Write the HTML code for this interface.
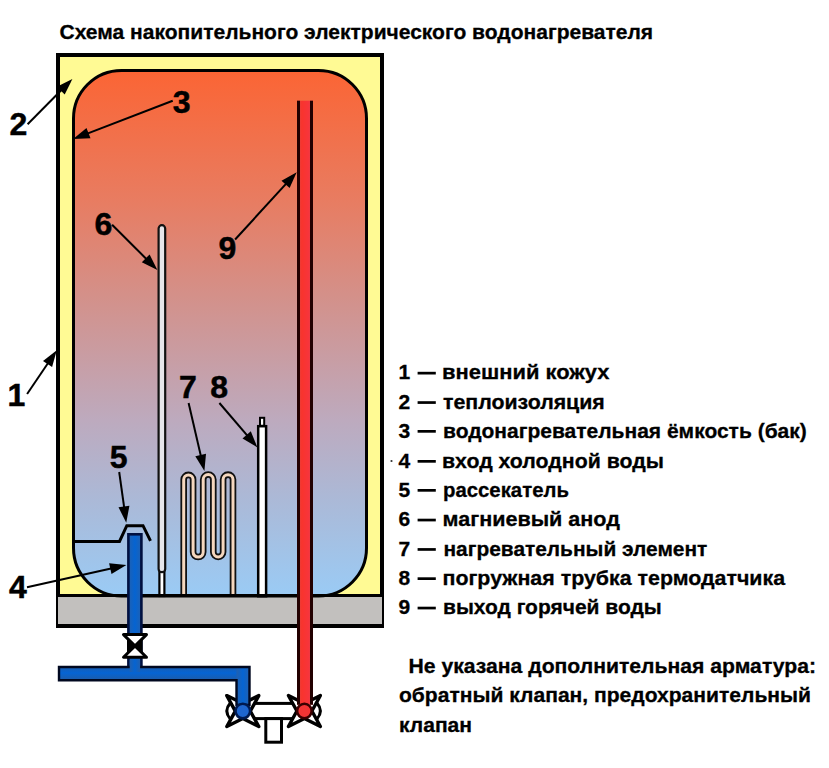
<!DOCTYPE html>
<html><head><meta charset="utf-8">
<style>
html,body{margin:0;padding:0;background:#fff;width:829px;height:768px;overflow:hidden}
svg{display:block;position:absolute;left:0;top:0}
.t{font-family:"Liberation Sans",sans-serif;font-weight:bold;font-size:21px;fill:#000;stroke:#000;stroke-width:0.3px}
.n{font-family:"Liberation Sans",sans-serif;font-weight:bold;font-size:32px;fill:#000;stroke:#000;stroke-width:0.5px}
</style></head>
<body>
<svg width="829" height="768" viewBox="0 0 829 768">
<defs>
<linearGradient id="g" x1="0" y1="69" x2="0" y2="597" gradientUnits="userSpaceOnUse">
<stop offset="0" stop-color="#fc6332"/>
<stop offset="0.017" stop-color="#fa6637"/>
<stop offset="0.248" stop-color="#e87c61"/>
<stop offset="0.445" stop-color="#d2928d"/>
<stop offset="0.665" stop-color="#bdaabe"/>
<stop offset="0.816" stop-color="#abb9d7"/>
<stop offset="0.967" stop-color="#9dc8f0"/>
<stop offset="1" stop-color="#9acbf5"/>
</linearGradient>
<linearGradient id="rp" x1="0" y1="0" x2="1" y2="0">
<stop offset="0" stop-color="#d84646"/>
<stop offset="0.3" stop-color="#f8342d"/>
<stop offset="0.7" stop-color="#f8343a"/>
<stop offset="1" stop-color="#dc4450"/>
</linearGradient>
<linearGradient id="bpv" x1="0" y1="0" x2="1" y2="0">
<stop offset="0" stop-color="#2060b0"/>
<stop offset="0.5" stop-color="#0564d2"/>
<stop offset="1" stop-color="#2060b0"/>
</linearGradient>
<linearGradient id="bph" x1="0" y1="0" x2="0" y2="1">
<stop offset="0" stop-color="#1a5db0"/>
<stop offset="0.45" stop-color="#0564d4"/>
<stop offset="1" stop-color="#1d5ba8"/>
</linearGradient>
</defs>
<rect x="58" y="55" width="324" height="571" fill="#fffa94" stroke="#000" stroke-width="4"/>
<rect x="58" y="597" width="324" height="27" fill="#c2c0be"/>
<path d="M73.5 548 L73.5 118.5 A48 48 0 0 1 121.5 70.5 L318.5 70.5 A48 48 0 0 1 366.5 118.5 L366.5 548 A48 48 0 0 1 318.5 596 L121.5 596 A48 48 0 0 1 73.5 548 Z" fill="url(#g)" stroke="#000" stroke-width="3"/>

<rect x="159.4" y="571" width="5" height="25" fill="#fff" stroke="#000" stroke-width="2.2"/>
<rect x="158.6" y="225.2" width="6.6" height="347" rx="3.3" fill="#e6e6ea" stroke="#111" stroke-width="2.2"/>

<path d="M183.7 596 L183.7 479.6 A4.7 4.7 0 0 1 193.1 479.6 L193.1 552 A5.05 5.05 0 0 0 203.2 552 L203.2 479.6 A5.05 5.05 0 0 1 213.3 479.6 L213.3 552 A4.9 4.9 0 0 0 223.1 552 L223.1 479.6 A4.95 4.95 0 0 1 233 479.6 L233 596" fill="none" stroke="#111" stroke-width="6.6"/>
<path d="M183.7 596 L183.7 479.6 A4.7 4.7 0 0 1 193.1 479.6 L193.1 552 A5.05 5.05 0 0 0 203.2 552 L203.2 479.6 A5.05 5.05 0 0 1 213.3 479.6 L213.3 552 A4.9 4.9 0 0 0 223.1 552 L223.1 479.6 A4.95 4.95 0 0 1 233 479.6 L233 596" fill="none" stroke="#f5d7be" stroke-width="3"/>

<rect x="260" y="417.8" width="4.2" height="8" fill="#fff" stroke="#000" stroke-width="2"/>
<rect x="258.2" y="426.2" width="7.9" height="170" fill="#fff" stroke="#000" stroke-width="2.5"/>

<polyline points="73,541.4 119.5,541.4 126.8,525.7 143,525.7 150.5,540.8" fill="none" stroke="#000" stroke-width="3"/>
<rect x="56" y="594" width="328" height="3" fill="#000"/>

<rect x="250" y="703.4" width="50" height="15.2" fill="#fff" stroke="#000" stroke-width="3"/>
<rect x="265.8" y="718.6" width="15.7" height="23.6" fill="#fff" stroke="#000" stroke-width="3"/>
<path d="M226.8 695.6 L242.8 703.6 L258.8 695.6 L250.3 711.1 L258.8 726.6 L242.8 718.6 L226.8 726.6 L235.3 711.1Z" fill="#fff" stroke="#000" stroke-width="3.4" stroke-linejoin="round"/><path d="M230.3 703.1 Q223.3 711.1 230.3 719.1" fill="none" stroke="#000" stroke-width="3"/>
<path d="M288.4 695.5 L304.4 703.5 L320.4 695.5 L311.9 711.0 L320.4 726.5 L304.4 718.5 L288.4 726.5 L296.9 711.0Z" fill="#fff" stroke="#000" stroke-width="3.4" stroke-linejoin="round"/><path d="M316.9 703.0 Q323.9 711.0 316.9 719.0" fill="none" stroke="#000" stroke-width="3"/>

<rect x="128.4" y="534.3" width="13" height="140" fill="url(#bpv)" stroke="#001040" stroke-width="2.6"/>
<rect x="297" y="100.7" width="16" height="604" fill="url(#rp)"/>
<rect x="297" y="100.7" width="3" height="604" fill="#220000"/>
<rect x="310" y="100.7" width="3" height="604" fill="#220000"/>


<rect x="59" y="667" width="190.5" height="13.2" fill="url(#bph)"/>
<rect x="236.5" y="667" width="13" height="38" fill="url(#bpv)"/>
<path d="M59 667 L249.5 667 L249.5 705 L236.5 705 L236.5 680.2 L59 680.2 Z" fill="none" stroke="#000820" stroke-width="2.4"/>
<rect x="129.7" y="660" width="10.4" height="12" fill="url(#bpv)"/>
<rect x="127" y="638" width="15.6" height="15.5" fill="#000"/>
<path d="M123.5 634.6 L146.5 634.6 L123.5 657.3 L146.5 657.3 Z" fill="#fff" stroke="#000" stroke-width="3" stroke-linejoin="round"/>

<circle cx="242.8" cy="711.1" r="7.3" fill="#1e66d0" stroke="#001a50" stroke-width="2.6"/>
<circle cx="304.4" cy="711.0" r="7.3" fill="#f43434" stroke="#3a0000" stroke-width="2.6"/>

<text class="n" x="9.50" y="135.38">2</text>
<text class="n" x="172.65" y="112.75">3</text>
<text class="n" x="94.60" y="234.95">6</text>
<text class="n" x="218.40" y="259.35">9</text>
<text class="n" x="7.60" y="406.05">1</text>
<text class="n" x="178.95" y="397.75">7</text>
<text class="n" x="210.15" y="397.55">8</text>
<text class="n" x="109.87" y="467.62">5</text>
<text class="n" x="9.00" y="597.80">4</text>
<circle cx="391.5" cy="461" r="1.1" fill="#333"/>
<g stroke="#000" stroke-width="2" fill="none"><line x1="27.6" y1="124.2" x2="62.2" y2="89.2"/>
<path d="M72.4 78.9 L64.7 94.5 L56.9 86.8Z" fill="#000" stroke="none"/>
<line x1="172.7" y1="100.7" x2="86.6" y2="133.9"/>
<path d="M73.1 139.1 L86.5 128.0 L90.5 138.3Z" fill="#000" stroke="none"/>
<line x1="27.1" y1="394" x2="48.6" y2="362.3"/>
<path d="M56.8 350.3 L52.1 367.0 L43.0 360.9Z" fill="#000" stroke="none"/>
<line x1="112.1" y1="224.7" x2="147.1" y2="259.7"/>
<path d="M157.4 270 L141.8 262.2 L149.6 254.4Z" fill="#000" stroke="none"/>
<line x1="235.1" y1="239.5" x2="286.9" y2="182.9"/>
<path d="M296.7 172.2 L289.6 188.1 L281.5 180.7Z" fill="#000" stroke="none"/>
<line x1="188.6" y1="403" x2="201.1" y2="456.9"/>
<path d="M204.4 471 L195.3 456.2 L206.0 453.7Z" fill="#000" stroke="none"/>
<line x1="219.4" y1="403" x2="248.0" y2="436.4"/>
<path d="M257.4 447.4 L242.5 438.4 L250.8 431.3Z" fill="#000" stroke="none"/>
<line x1="119.2" y1="472" x2="124.3" y2="508.4"/>
<path d="M126.25 522.8 L118.5 507.2 L129.4 505.7Z" fill="#000" stroke="none"/>
<line x1="27" y1="587.3" x2="112.2" y2="568.3"/>
<path d="M126.4 565.1 L111.5 574.1 L109.1 563.3Z" fill="#000" stroke="none"/></g>
<text class="t" x="59.50" y="39.3" textLength="593.62" lengthAdjust="spacingAndGlyphs">Схема накопительного электрического водонагревателя</text>
<text class="t" x="442.00" y="379.3" textLength="167.47" lengthAdjust="spacingAndGlyphs">внешний кожух</text>
<text class="t" x="398.6" y="379.3">1</text>
<rect x="417.6" y="371.8" width="18.2" height="2.7" fill="#000"/>
<text class="t" x="443.00" y="408.7" textLength="161.78" lengthAdjust="spacingAndGlyphs">теплоизоляция</text>
<text class="t" x="398.6" y="408.7">2</text>
<rect x="417.6" y="401.2" width="18.2" height="2.7" fill="#000"/>
<text class="t" x="443.00" y="437.5" textLength="363.80" lengthAdjust="spacingAndGlyphs">водонагревательная ёмкость (бак)</text>
<text class="t" x="398.6" y="437.5">3</text>
<rect x="417.6" y="430.0" width="18.2" height="2.7" fill="#000"/>
<text class="t" x="442.00" y="467.5" textLength="221.93" lengthAdjust="spacingAndGlyphs">вход холодной воды</text>
<text class="t" x="398.6" y="467.5">4</text>
<rect x="417.6" y="460.0" width="18.2" height="2.7" fill="#000"/>
<text class="t" x="443.00" y="496.5" textLength="125.90" lengthAdjust="spacingAndGlyphs">рассекатель</text>
<text class="t" x="398.6" y="496.5">5</text>
<rect x="417.6" y="489.0" width="18.2" height="2.7" fill="#000"/>
<text class="t" x="442.50" y="526.2" textLength="177.45" lengthAdjust="spacingAndGlyphs">магниевый анод</text>
<text class="t" x="398.6" y="526.2">6</text>
<rect x="417.6" y="518.7" width="18.2" height="2.7" fill="#000"/>
<text class="t" x="443.50" y="555.6" textLength="263.83" lengthAdjust="spacingAndGlyphs">нагревательный элемент</text>
<text class="t" x="398.6" y="555.6">7</text>
<rect x="417.6" y="548.1" width="18.2" height="2.7" fill="#000"/>
<text class="t" x="442.50" y="584.8" textLength="342.54" lengthAdjust="spacingAndGlyphs">погружная трубка термодатчика</text>
<text class="t" x="398.6" y="584.8">8</text>
<rect x="417.6" y="577.3" width="18.2" height="2.7" fill="#000"/>
<text class="t" x="443.00" y="614.2" textLength="218.69" lengthAdjust="spacingAndGlyphs">выход горячей воды</text>
<text class="t" x="398.6" y="614.2">9</text>
<rect x="417.6" y="606.7" width="18.2" height="2.7" fill="#000"/>
<text class="t" x="408.50" y="673.4" textLength="407.49" lengthAdjust="spacingAndGlyphs">Не указана дополнительная арматура:</text>
<text class="t" x="399.00" y="701.8" textLength="412.02" lengthAdjust="spacingAndGlyphs">обратный клапан, предохранительный</text>
<text class="t" x="399.00" y="731.8" textLength="73.06" lengthAdjust="spacingAndGlyphs">клапан</text>
</svg>
</body></html>
